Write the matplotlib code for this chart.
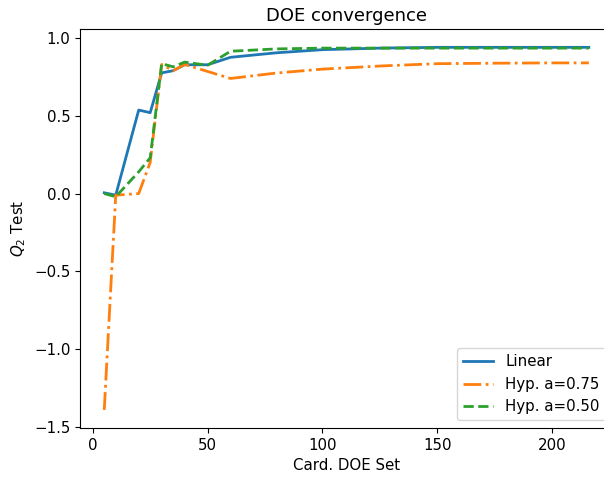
import numpy as np
import matplotlib.pyplot as plt

# DOE set sizes and Q2 test scores
card_doe = [5, 10, 20, 25, 30, 35, 40, 50, 60, 80, 100, 125, 150, 175, 200, 216]
q2_linear = [0.005, -0.01, 0.537, 0.52, 0.776, 0.79, 0.828, 0.828, 0.876,
             0.905, 0.925, 0.935, 0.94, 0.94, 0.94, 0.94]
q2_hyp075 = [-1.39, -0.01, 0.0, 0.2, 0.83, 0.79, 0.83, 0.785, 0.74,
             0.775, 0.80, 0.82, 0.835, 0.838, 0.84, 0.84]
q2_hyp050 = [0.0, -0.02, 0.14, 0.23, 0.835, 0.815, 0.845, 0.825, 0.915,
             0.93, 0.935, 0.935, 0.935, 0.935, 0.935, 0.935]

plt.rcParams["font.size"] = 10.8

fig = plt.figure(figsize=(6.04, 4.79), dpi=100)
# axes runs a little past the right edge, like the reference crop
ax = fig.add_axes([0.1325, 0.1065, 0.8825, 0.8325])

ax.plot(card_doe, q2_linear, color="C0", lw=2, ls="-", label="Linear")
ax.plot(card_doe, q2_hyp075, color="C1", lw=2, ls="-.", label="Hyp. a=0.75")
ax.plot(card_doe, q2_hyp050, color="C2", lw=2, ls="--", label="Hyp. a=0.50")

ax.set_title("DOE convergence", fontsize=13)
ax.set_xlabel("Card. DOE Set")
ax.set_ylabel("$Q_2$ Test")
ax.legend(loc="lower right")

fig.savefig("out.png", dpi=100)
